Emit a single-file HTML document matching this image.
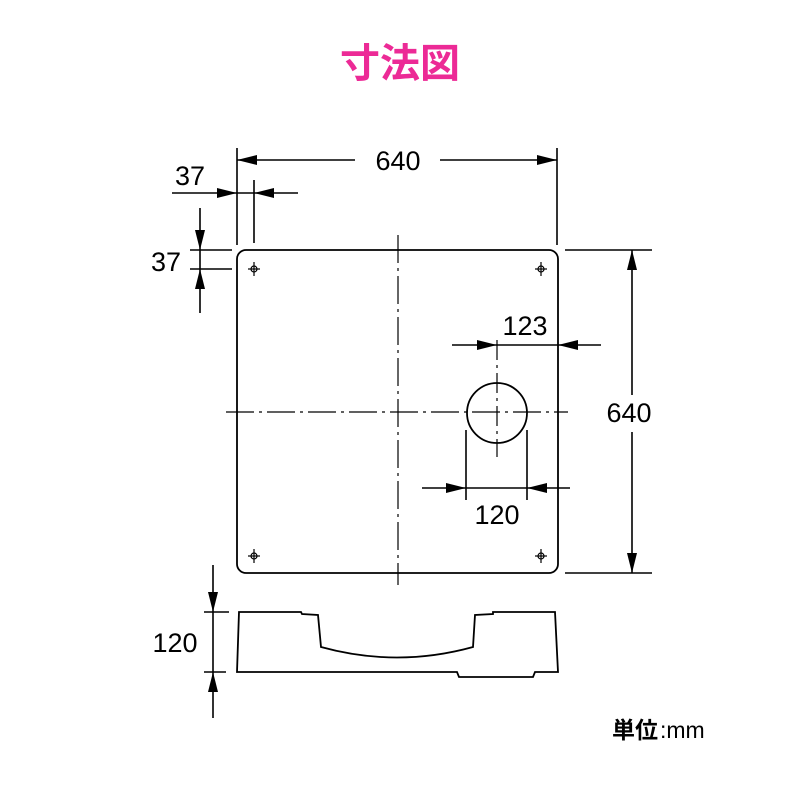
<!DOCTYPE html>
<html><head><meta charset="utf-8"><style>
body{margin:0;background:#fff;width:800px;height:800px;overflow:hidden}
svg text{font-family:"Liberation Sans","Noto Sans CJK JP",sans-serif;}
</style></head><body>
<svg width="800" height="800" viewBox="0 0 800 800" xmlns="http://www.w3.org/2000/svg">
<defs>
<marker id="a" viewBox="0 0 20 10" refX="20" refY="5" markerWidth="20" markerHeight="10" orient="auto" markerUnits="userSpaceOnUse"><path d="M0,0L20,5L0,10Z" fill="#000"/></marker>
</defs>
<text x="400" y="77" font-size="40" font-weight="bold" fill="#ec2a96" text-anchor="middle" style="font-family:'Noto Sans CJK JP',sans-serif">寸法図</text>
<g stroke="#000" stroke-width="1.8" fill="none">
<rect x="237" y="250" width="321" height="323" rx="9"/>
<line x1="398" y1="235" x2="398" y2="585" stroke-dasharray="28,5,3,5" stroke-width="1.2"/>
<line x1="226" y1="412" x2="568" y2="412" stroke-dasharray="28,5,3,5" stroke-width="1.2"/>
<circle cx="497" cy="413" r="30"/>
<line x1="497" y1="340" x2="497" y2="457" stroke-dasharray="20,5,3,5" stroke-width="1.2"/>
<g stroke-width="1.2">
<circle cx="254" cy="269" r="3"/><line x1="254" y1="262" x2="254" y2="276"/><line x1="248" y1="269" x2="260" y2="269"/>
<circle cx="541" cy="269" r="3"/><line x1="541" y1="262" x2="541" y2="276"/><line x1="535" y1="269" x2="547" y2="269"/>
<circle cx="254" cy="556" r="3"/><line x1="254" y1="549" x2="254" y2="563"/><line x1="248" y1="556" x2="260" y2="556"/>
<circle cx="541" cy="556" r="3"/><line x1="541" y1="549" x2="541" y2="563"/><line x1="535" y1="556" x2="547" y2="556"/>
</g>
<g stroke-width="1.6">
<line x1="237" y1="148" x2="237" y2="245"/><line x1="557" y1="148" x2="557" y2="245"/>
<line x1="355" y1="160" x2="237" y2="160" marker-end="url(#a)"/>
<line x1="440" y1="160" x2="557" y2="160" marker-end="url(#a)"/>
<line x1="254" y1="180" x2="254" y2="243"/>
<line x1="172" y1="193" x2="237" y2="193" marker-end="url(#a)"/>
<line x1="298" y1="193" x2="254" y2="193" marker-end="url(#a)"/>
<line x1="237" y1="193" x2="254" y2="193"/>
<line x1="190" y1="250" x2="232" y2="250"/><line x1="190" y1="269" x2="232" y2="269"/>
<line x1="200" y1="208" x2="200" y2="250" marker-end="url(#a)"/>
<line x1="200" y1="313" x2="200" y2="269" marker-end="url(#a)"/>
<line x1="200" y1="250" x2="200" y2="269"/>
<line x1="565" y1="250" x2="652" y2="250"/><line x1="565" y1="573" x2="652" y2="573"/>
<line x1="632" y1="395" x2="632" y2="250" marker-end="url(#a)"/>
<line x1="632" y1="432" x2="632" y2="573" marker-end="url(#a)"/>
<line x1="452" y1="345" x2="497" y2="345" marker-end="url(#a)"/>
<line x1="601" y1="345" x2="558" y2="345" marker-end="url(#a)"/>
<line x1="497" y1="345" x2="558" y2="345"/>
<line x1="466" y1="430" x2="466" y2="500"/><line x1="527" y1="430" x2="527" y2="500"/>
<line x1="422" y1="488" x2="466" y2="488" marker-end="url(#a)"/>
<line x1="570" y1="488" x2="527" y2="488" marker-end="url(#a)"/>
<line x1="466" y1="488" x2="527" y2="488"/>
<line x1="204" y1="612" x2="229" y2="612"/><line x1="204" y1="672" x2="226" y2="672"/>
<line x1="213" y1="565" x2="213" y2="612" marker-end="url(#a)"/>
<line x1="213" y1="718" x2="213" y2="672" marker-end="url(#a)"/>
<line x1="213" y1="612" x2="213" y2="672"/>
</g>
<path d="M239,612 L301,612 L302,614 L318,615 L321,647 Q397,668 473,647 L475,615 L493,614 L493,612 L555,612 L558,672 L535,672 L533,677 L459,677 L457,672 L237,672 Z"/>
</g>
<g font-size="27" fill="#000">
<text x="398" y="170" text-anchor="middle">640</text>
<text x="190" y="185" text-anchor="middle">37</text>
<text x="166" y="271" text-anchor="middle">37</text>
<text x="629" y="422" text-anchor="middle">640</text>
<text x="525" y="335" text-anchor="middle">123</text>
<text x="497" y="524" text-anchor="middle">120</text>
<text x="175" y="652" text-anchor="middle">120</text>
<text x="612" y="738" font-size="23" style="font-family:'Noto Sans CJK JP',sans-serif" font-weight="bold">単位</text>
<text x="660" y="738" font-size="23">:mm</text>
</g>
</svg>
</body></html>
